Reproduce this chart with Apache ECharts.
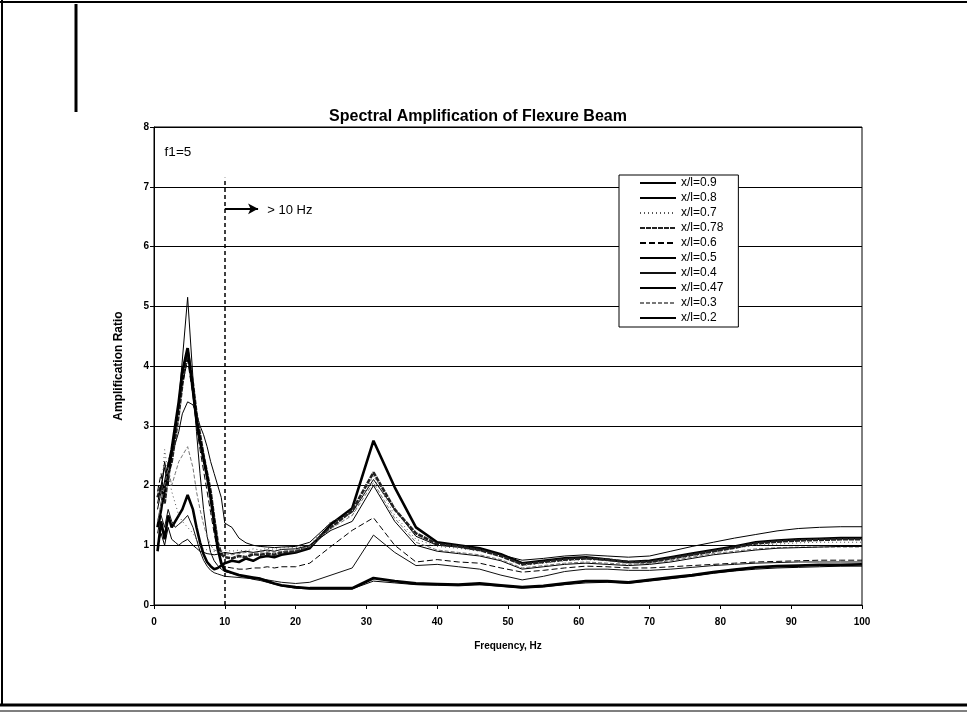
<!DOCTYPE html>
<html><head><meta charset="utf-8">
<script src="https://cdn.jsdelivr.net/npm/echarts@6/dist/echarts.min.js"></script>
<style>html,body{margin:0;padding:0;background:#fff}#c{width:967px;height:720px}</style>
</head><body><div id="c"></div>
<script>
// Frequency grid (Hz)
const freq = [0.5,1,1.5,2,2.5,3,3.5,4,4.75,5.5,6,6.5,7,7.5,8,8.5,9,9.5,10,
  11,12,13,14,15,16,17,18,
  20,22,25,28,31,34,37,40,43,46,49,52,55,58,61,64,67,70,73,76,79,82,85,88,91,94,97,100];

const s09 = [1.6,1.9,2.4,2.1,2.5,2.7,2.9,3.2,3.4,3.35,3.2,3.0,2.85,2.65,2.4,2.2,2.0,1.8,1.37,
  1.3,1.12,1.04,1.0,0.98,0.97,0.96,0.97,
  0.98,1.05,1.38,1.55,2.1,1.6,1.15,1.0,0.97,0.92,0.84,0.75,0.78,0.82,0.84,0.82,0.8,0.82,0.9,0.98,1.05,1.12,1.18,1.24,1.28,1.3,1.31,1.31];
const s08 = [0.9,1.4,1.1,1.5,1.3,1.4,1.5,1.6,1.84,1.6,1.3,1.05,0.85,0.72,0.65,0.6,0.62,0.66,0.7,
  0.74,0.72,0.78,0.74,0.8,0.82,0.8,0.84,
  0.88,0.95,1.35,1.62,2.75,1.97,1.3,1.05,1.0,0.95,0.85,0.7,0.74,0.78,0.8,0.76,0.72,0.74,0.8,0.86,0.92,0.98,1.05,1.08,1.1,1.11,1.12,1.12];
const s07 = [2.0,1.8,2.6,2.2,1.9,1.7,1.5,1.4,1.3,1.2,1.1,1.0,0.95,0.92,0.9,0.9,0.88,0.9,0.92,
  0.9,0.92,0.9,0.94,0.92,0.95,0.93,0.96,
  0.96,1.0,1.4,1.5,2.16,1.5,1.1,0.98,0.95,0.9,0.82,0.66,0.7,0.74,0.76,0.74,0.7,0.7,0.76,0.82,0.88,0.95,1.0,1.02,1.04,1.05,1.05,1.05];
const s078 = [1.8,2.0,1.7,2.2,2.4,2.8,3.2,3.7,4.25,3.7,3.2,2.85,2.5,2.2,1.9,1.45,1.05,0.85,0.8,
  0.78,0.82,0.8,0.85,0.84,0.86,0.84,0.88,
  0.9,0.98,1.3,1.58,2.22,1.6,1.2,1.02,0.98,0.92,0.82,0.68,0.72,0.76,0.78,0.76,0.72,0.72,0.78,0.84,0.9,0.96,1.03,1.06,1.08,1.09,1.1,1.1];
const s06 = [1.9,2.2,1.8,2.4,2.6,2.9,3.3,3.7,4.1,3.5,3.0,2.6,2.25,1.9,1.55,1.2,0.9,0.72,0.64,
  0.62,0.6,0.6,0.62,0.62,0.64,0.62,0.64,
  0.64,0.7,0.98,1.25,1.46,1.0,0.72,0.76,0.72,0.7,0.62,0.55,0.58,0.62,0.65,0.64,0.62,0.62,0.64,0.66,0.68,0.7,0.72,0.73,0.74,0.75,0.75,0.75];
const s05 = [1.7,2.0,2.3,2.0,2.5,2.9,3.4,4.1,5.15,3.8,2.9,2.2,1.6,1.15,0.88,0.74,0.66,0.6,0.56,
  0.53,0.5,0.46,0.43,0.41,0.38,0.35,0.32,
  0.28,0.27,0.27,0.27,0.4,0.37,0.34,0.33,0.32,0.34,0.31,0.28,0.3,0.34,0.37,0.38,0.36,0.4,0.44,0.48,0.53,0.57,0.6,0.62,0.63,0.64,0.65,0.65];
const s04 = [1.2,1.5,1.3,1.6,1.4,1.3,1.35,1.4,1.5,1.3,1.1,0.9,0.75,0.65,0.58,0.54,0.52,0.5,0.48,
  0.47,0.46,0.45,0.44,0.44,0.42,0.4,0.38,
  0.36,0.38,0.5,0.62,1.17,0.88,0.66,0.68,0.64,0.6,0.5,0.42,0.48,0.56,0.6,0.6,0.58,0.58,0.6,0.63,0.66,0.68,0.7,0.71,0.72,0.72,0.72,0.72];
const s047 = [1.3,1.6,2.0,2.3,2.6,3.0,3.4,3.9,4.3,3.6,3.1,2.75,2.45,2.15,1.8,1.37,0.95,0.7,0.58,
  0.54,0.5,0.48,0.46,0.44,0.4,0.36,0.33,
  0.3,0.28,0.28,0.28,0.45,0.4,0.36,0.35,0.34,0.36,0.33,0.3,0.32,0.36,0.4,0.4,0.38,0.42,0.46,0.5,0.55,0.59,0.63,0.65,0.66,0.67,0.67,0.68];
const s03 = [1.4,1.7,2.0,2.3,2.0,2.2,2.4,2.5,2.65,2.3,1.9,1.6,1.35,1.15,1.0,0.92,0.9,0.88,0.86,
  0.84,0.86,0.88,0.86,0.88,0.9,0.88,0.9,
  0.92,0.98,1.28,1.5,2.05,1.45,1.05,0.92,0.88,0.84,0.76,0.62,0.66,0.7,0.72,0.7,0.68,0.7,0.74,0.8,0.86,0.9,0.94,0.96,0.97,0.97,0.97,0.97];
const s02 = [1.0,1.2,1.0,1.3,1.1,1.05,1.0,1.05,1.1,1.0,0.95,0.9,0.88,0.86,0.85,0.84,0.85,0.86,0.88,
  0.86,0.88,0.9,0.88,0.9,0.92,0.9,0.93,
  0.94,1.0,1.25,1.4,2.0,1.4,1.0,0.9,0.86,0.82,0.74,0.6,0.64,0.68,0.7,0.68,0.66,0.68,0.72,0.78,0.84,0.88,0.92,0.95,0.96,0.97,0.98,0.98];

const seriesNames = ['x/l=0.9','x/l=0.8','x/l=0.7','x/l=0.78','x/l=0.6','x/l=0.5','x/l=0.4','x/l=0.47','x/l=0.3','x/l=0.2'];
const seriesValues = [s09,s08,s07,s078,s06,s05,s04,s047,s03,s02];

// annotation values
const cutoffFreq = 10, cutoffTop = 7.15;
const arrowY = 6.63, arrowEnd = 14.7;
const f1Label = 'f1=5', f1Pos = [1.5, 7.58];
const cutoffLabel = '> 10 Hz', cutoffLabelPos = [16.0, 6.6];
const xTicks = [0,10,20,30,40,50,60,70,80,90,100];
const yTicks = [0,1,2,3,4,5,6,7,8];

const styles = [
  {color:'#000', width:1, type:'solid'},
  {color:'#000', width:2.6, type:'solid'},
  {color:'#555', width:1, type:[1,3]},
  {color:'#222', width:2.6, type:[5,1]},
  {color:'#000', width:1, type:[6,3]},
  {color:'#000', width:1, type:'solid'},
  {color:'#111', width:1, type:'solid'},
  {color:'#000', width:2.8, type:'solid'},
  {color:'#777', width:1, type:[4,2]},
  {color:'#000', width:1, type:'solid'}
];

const FONT = 'Liberation Sans, Arial, sans-serif';
const series = seriesNames.map((name,k)=>({
  name, type:'line', symbol:'none', animation:false,
  data: freq.map((f,i)=>[f, seriesValues[k][i]]),
  lineStyle: styles[k], itemStyle:{color: styles[k].color}
}));
series[0].markLine = {
  silent:true, symbol:'none', animation:false, label:{show:false},
  data:[
    [{coord:[cutoffFreq,0], lineStyle:{type:[4,3], width:1.5, color:'#000'}}, {coord:[cutoffFreq,cutoffTop]}]
  ]
};
series[1].markLine = {
  silent:true, symbol:['none','arrow'], symbolSize:[8,10], animation:false, label:{show:false},
  data:[
    [{coord:[cutoffFreq,arrowY], lineStyle:{type:'solid', width:2.2, color:'#000'}}, {coord:[arrowEnd,arrowY]}]
  ]
};
series[0].markPoint = {
  silent:true, animation:false, symbol:'circle', symbolSize:0,
  data:[
    {coord:f1Pos, label:{show:true, formatter:f1Label, position:'right', distance:0, color:'#000', fontFamily:FONT, fontSize:13.5}},
    {coord:cutoffLabelPos, label:{show:true, formatter:cutoffLabel, position:'right', distance:0, color:'#000', fontFamily:FONT, fontSize:13}}
  ]
};

const chart = echarts.init(document.getElementById('c'), null, {renderer:'canvas'});
chart.setOption({
  backgroundColor:'#fff',
  animation:false,
  title:{text:'Spectral Amplification of Flexure Beam', left:473, top:104, textAlign:'center',
    textStyle:{fontFamily:FONT, fontSize:16, fontWeight:'bold', color:'#000'}},
  grid:{left:154, right:105, top:127, bottom:115, show:true, borderColor:'#000', borderWidth:1, backgroundColor:'transparent'},
  legend:{
    orient:'vertical', left:619, top:175, data:seriesNames,
    backgroundColor:'#fff', borderColor:'#000', borderWidth:1,
    padding:[2,15,3,20], itemGap:3, itemWidth:36, itemHeight:10,
    itemStyle:{opacity:0},
    textStyle:{fontFamily:FONT, fontSize:12, color:'#000'},
    selectedMode:false
  },
  xAxis:{type:'value', min:xTicks[0], max:xTicks[xTicks.length-1], interval:10,
    name:'Frequency, Hz', nameLocation:'middle', nameGap:36,
    nameTextStyle:{fontFamily:FONT, fontSize:10, fontWeight:'bold', color:'#000'},
    axisLine:{lineStyle:{color:'#000', width:1}},
    axisTick:{show:true, length:4, lineStyle:{color:'#000'}},
    axisLabel:{fontFamily:FONT, fontSize:10, fontWeight:'bold', color:'#000', margin:12},
    splitLine:{show:false}},
  yAxis:{type:'value', min:yTicks[0], max:yTicks[yTicks.length-1], interval:1,
    name:'Amplification Ratio', nameLocation:'middle', nameGap:29,
    nameTextStyle:{fontFamily:FONT, fontSize:12, fontWeight:'bold', color:'#000'},
    axisLine:{show:true, lineStyle:{color:'#000', width:1}},
    axisTick:{show:true, length:4, lineStyle:{color:'#000'}},
    axisLabel:{fontFamily:FONT, fontSize:10, fontWeight:'bold', color:'#000', margin:5},
    splitLine:{show:true, lineStyle:{color:'#000', width:1}}},
  graphic:[
    {type:'line', shape:{x1:2, y1:0, x2:2, y2:706}, style:{stroke:'#000', lineWidth:2}},
    {type:'line', shape:{x1:0, y1:2, x2:967, y2:2}, style:{stroke:'#000', lineWidth:2}},
    {type:'line', shape:{x1:76, y1:4, x2:76, y2:112}, style:{stroke:'#000', lineWidth:3}},
    {type:'line', shape:{x1:0, y1:705, x2:967, y2:705}, style:{stroke:'#000', lineWidth:3}},
    {type:'line', shape:{x1:0, y1:711, x2:967, y2:711}, style:{stroke:'#555', lineWidth:1.5}}
  ],
  series
});
</script></body></html>
